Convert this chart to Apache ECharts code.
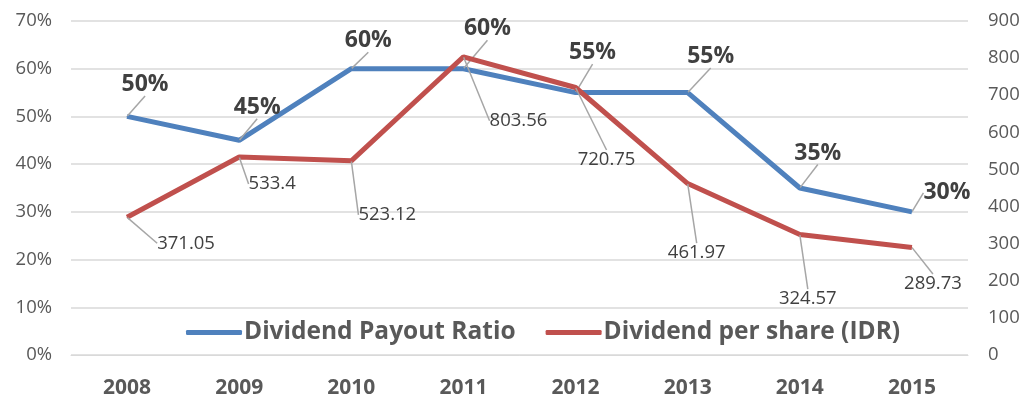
<!DOCTYPE html>
<html>
<head>
<meta charset="utf-8">
<script src="https://cdn.jsdelivr.net/npm/echarts@6/dist/echarts.min.js"></script>
<style>
  html, body { margin: 0; padding: 0; background: #fff; }
  #chart { width: 1023px; height: 401px; }
</style>
</head>
<body>
<div id="chart"></div>
<script>
// Dividend history, 2008–2015
const years = ['2008', '2009', '2010', '2011', '2012', '2013', '2014', '2015'];
const payoutRatio = [50, 45, 60, 60, 55, 55, 35, 30];            // %
const dividendPerShare = [371.05, 533.4, 523.12, 803.56, 720.75, 461.97, 324.57, 289.73]; // IDR
const leftTicks = { min: 0, max: 70, interval: 10 };
const rightTicks = { min: 0, max: 900, interval: 100 };

// Per-label offsets (px) from each point, with leader lines drawn back to the point
const ratioLabelOffsets = [[18, -32], [18, -33], [17, -28], [24, -40], [17, -40], [23, -36], [18, -35], [35, -19]];
const dpsLabelOffsets = [[59, 26], [33, 27], [36, 54], [55, 64], [31, 72], [9, 69], [8, 64], [21, 36]];

const FONT = '"Open Sans", sans-serif';
const BLUE = '#4F81BD';
const RED = '#C0504D';
const TEXT = '#595959';
const GRID = '#D9D9D9';

const chart = echarts.init(document.getElementById('chart'), null, { renderer: 'canvas' });

chart.setOption({
  animation: false,
  textStyle: { fontFamily: FONT },
  grid: { left: 71, right: 55, top: 21, bottom: 46, containLabel: false },
  legend: {
    left: 181,
    top: 315,
    itemGap: 30,
    itemWidth: 56,
    itemHeight: 5,
    icon: 'roundRect',
    textStyle: { fontFamily: FONT, fontSize: 24.5, fontWeight: 'bold', color: TEXT, padding: [0, 0, 0, -3] },
    data: ['Dividend Payout Ratio', 'Dividend per share (IDR)']
  },
  xAxis: {
    type: 'category',
    data: years,
    boundaryGap: true,
    axisTick: { show: false },
    axisLine: { lineStyle: { color: GRID, width: 1 } },
    axisLabel: { fontFamily: FONT, fontSize: 21, fontWeight: 'bold', color: TEXT, margin: 23 }
  },
  yAxis: [
    {
      type: 'value',
      min: leftTicks.min, max: leftTicks.max, interval: leftTicks.interval,
      axisLine: { show: false },
      axisTick: { show: false },
      splitLine: { lineStyle: { color: GRID, width: 1.5 } },
      axisLabel: { fontFamily: FONT, fontSize: 18.5, color: TEXT, margin: 19, formatter: '{value}%' }
    },
    {
      type: 'value',
      min: rightTicks.min, max: rightTicks.max, interval: rightTicks.interval,
      axisLine: { show: false },
      axisTick: { show: false },
      splitLine: { show: false },
      axisLabel: { fontFamily: FONT, fontSize: 18.5, color: TEXT, margin: 20 }
    }
  ],
  series: [
    {
      name: 'Dividend Payout Ratio',
      type: 'line',
      yAxisIndex: 0,
      data: payoutRatio,
      symbol: 'circle',
      symbolSize: 1,
      showSymbol: true,
      color: BLUE,
      lineStyle: { color: BLUE, width: 5 },
      itemStyle: { color: BLUE },
      z: 3,
      label: {
        show: true,
        position: 'inside',
        formatter: p => p.value + '%',
        fontFamily: FONT,
        fontSize: 23,
        fontWeight: 'bold',
        color: '#404040'
      },
      labelLine: { show: true, lineStyle: { color: '#A6A6A6', width: 1.5 } },
      labelLayout: p => ({ dx: ratioLabelOffsets[p.dataIndex][0], dy: ratioLabelOffsets[p.dataIndex][1] })
    },
    {
      name: 'Dividend per share (IDR)',
      type: 'line',
      yAxisIndex: 1,
      data: dividendPerShare,
      symbol: 'circle',
      symbolSize: 1,
      showSymbol: true,
      color: RED,
      lineStyle: { color: RED, width: 5 },
      itemStyle: { color: RED },
      z: 4,
      label: {
        show: true,
        position: 'inside',
        formatter: p => String(p.value),
        fontFamily: FONT,
        fontSize: 18.5,
        color: '#404040'
      },
      labelLine: { show: true, lineStyle: { color: '#A6A6A6', width: 1.5 } },
      labelLayout: p => ({ dx: dpsLabelOffsets[p.dataIndex][0], dy: dpsLabelOffsets[p.dataIndex][1] })
    }
  ]
});
</script>
</body>
</html>
